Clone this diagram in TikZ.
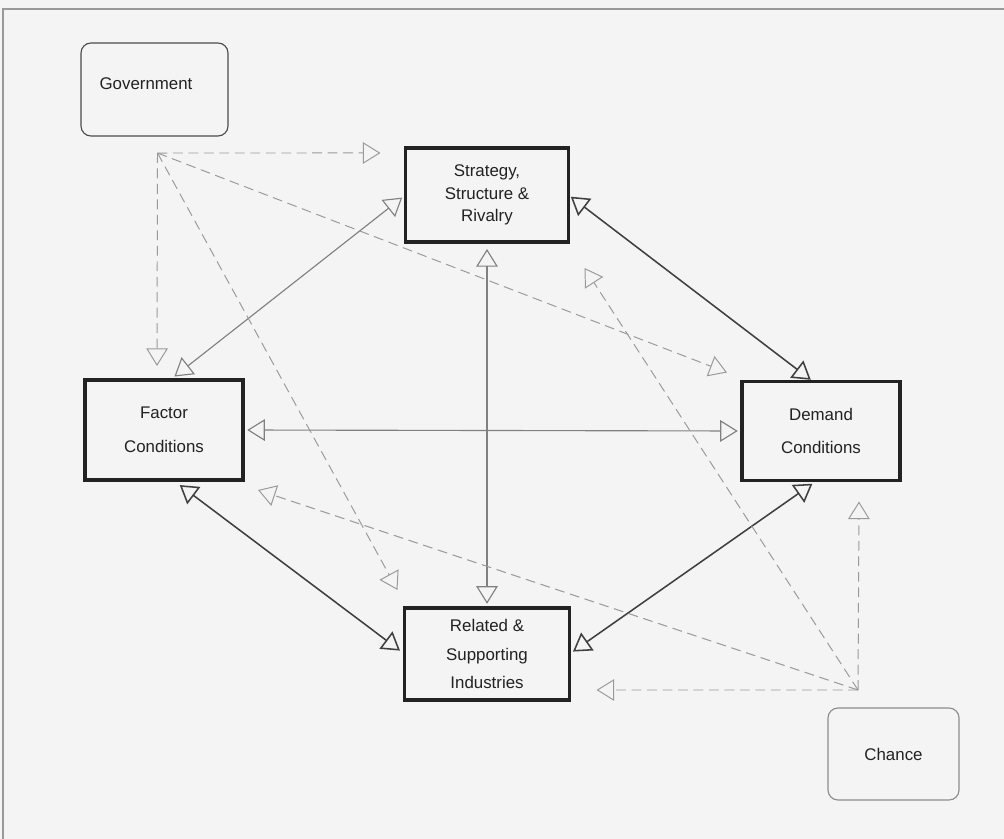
\documentclass[tikz,border=0pt]{standalone}
\usepackage{fontspec}
\setmainfont{Liberation Sans}
\usetikzlibrary{arrows.meta}
\definecolor{paper}{HTML}{F4F4F4}
\definecolor{ink}{HTML}{222222}
\definecolor{dash}{HTML}{9A9A9A}
\begin{document}
\begin{tikzpicture}[x=0.025cm, y=-0.025cm, font=\fontsize{12}{14}\selectfont,
	every node/.style={text=ink, align=center, inner sep=0pt, outer sep=0pt},
	factor/.style={draw=ink, line width=2.2pt},
	softbox/.style={draw=black!70, rounded corners=0.25cm, line width=0.8pt},
	>={Triangle[open, length=0.44cm, width=0.54cm]},
	link/.style={<->, draw=black!75, line width=1.1pt},
	weaklink/.style={<->, draw=black!50, line width=0.8pt},
	influence/.style={->, draw=dash, dashed, dash pattern=on 7pt off 4pt, line width=0.7pt}]

		\fill[paper] (0,0) rectangle (1004,839);
		\useasboundingbox (0,0) rectangle (1004,839);
		\draw[black!40, line width=0.8pt] (3,839) -- (3,9) -- (1004,9);

		\node[softbox, minimum width=3.675cm, minimum height=2.325cm] (gov) at (154.5,89.5) {};
		\node (govtext) at (146,84) {Government};
		\node[factor, minimum width=4.075cm, minimum height=2.35cm, font=\fontsize{12}{16}\selectfont] (strat) at (487,195) {Strategy,\\Structure \&\\Rivalry};
		\node[factor, minimum width=3.95cm, minimum height=2.5cm] (factor) at (164,430) {Factor\\[10pt]Conditions};
		\node[factor, minimum width=3.95cm, minimum height=2.475cm] (demand) at (821,431) {Demand\\[10pt]Conditions};
		\node[factor, minimum width=4.125cm, minimum height=2.3cm] (related) at (487,654) {Related \&\\[6pt]Supporting\\[6pt]Industries};
		\node[softbox, draw=black!45, minimum width=3.275cm, minimum height=2.3cm] (chance) at (893.5,754) {Chance};

		\coordinate (ghub) at ([shift={(3,17)}]gov.south);
		\coordinate (chub) at ([shift={(-35.5,-18)}]chance.north);

		\draw[weaklink, shorten <=4pt, shorten >=3pt] ([shift={(6,0)}]factor.north) -- (strat.west);
		\draw[link, shorten <=2pt, shorten >=2pt] (strat.east) -- ([shift={(-8,0)}]demand.north);
		\draw[weaklink, shorten <=5pt, shorten >=3pt] (strat.south) -- (related.north);
		\draw[weaklink, shorten <=3pt, shorten >=3pt] (factor.east) -- (demand.west);
		\draw[link, shorten <=6pt, shorten >=4pt] ([shift={(9,0)}]factor.south) -- (related.west);
		\draw[link, shorten <=3pt, shorten >=4pt] (related.east) -- ([shift={(-4,0)}]demand.south);

		\draw[influence] (ghub) -- ([shift={(-25,5)}]strat.north west);
		\draw[influence] (ghub) -- ([shift={(-7,-14)}]factor.north);
		\draw[influence] (ghub) -- ([shift={(-7,-18)}]related.north west);
		\draw[influence] (ghub) -- ([shift={(-15,-9)}]demand.north west);

		\draw[influence] (chub) -- ([shift={(27,36)}]related.east);
		\draw[influence] (chub) -- ([shift={(38,21)}]demand.south);
		\draw[influence] (chub) -- ([shift={(15,10)}]factor.south east);
		\draw[influence] (chub) -- ([shift={(16,26)}]strat.south east);
	\end{tikzpicture}
\end{document}
